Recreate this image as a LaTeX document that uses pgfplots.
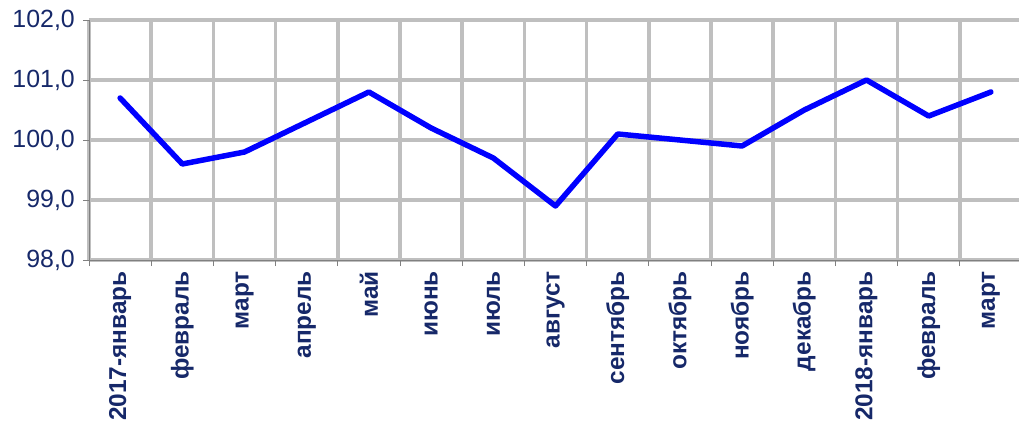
\documentclass[border=0pt]{standalone}
\usepackage{fontspec}
\setmainfont{Liberation Sans}
\usepackage{pgfplots}
\pgfplotsset{compat=1.18}
\definecolor{navy}{RGB}{22,40,105}
\definecolor{gridc}{RGB}{191,191,191}
\definecolor{axc}{RGB}{128,128,128}
\begin{document}
\begin{tikzpicture}
\begin{axis}[
  at={(89bp,163bp)}, anchor=south west,
  scale only axis, width=933bp, height=240bp,
  xmin=-0.5, xmax=14.5, ymin=98, ymax=102,
  axis x line*=bottom, axis y line*=left,
  axis line style={axc, line width=0.9bp, -},
  xtick={-0.5,0.5,...,14.5},
  xticklabels={},
  xmajorgrids,
  major x grid style={gridc, line width=3.5bp},
  extra x ticks={0,...,14},
  extra x tick labels={2017-январь,февраль,март,апрель,май,июнь,июль,август,сентябрь,октябрь,ноябрь,декабрь,2018-январь,февраль,март},
  extra x tick style={grid=none, major tick length=0pt, tick style={draw=none}},
  ytick={98,99,100,101,102},
  ymajorgrids,
  major y grid style={gridc, line width=3.5bp},
  tick style={axc, line width=0.9bp},
  tick align=outside,
  major tick length=6bp,
  xticklabel shift=11bp,
  xticklabel style={rotate=90, anchor=east, font=\fontsize{24.5}{28}\selectfont\bfseries, text=navy, inner sep=0pt},
  yticklabel style={font=\fontsize{25}{28}\selectfont, text=navy, inner sep=0pt, xshift=-8bp},
  /pgf/number format/.cd, use comma, fixed, fixed zerofill, precision=1, assume math mode=true,
]
\addplot[color={rgb,255:red,0;green,0;blue,255}, line width=5.5bp, line join=round, line cap=round, mark=none]
coordinates {
(0,100.7) (1,99.6) (2,99.8) (3,100.3) (4,100.8) (5,100.2) (6,99.7) (7,98.9)
(8,100.1) (9,100.0) (10,99.9) (11,100.5) (12,101.0) (13,100.4) (14,100.8)
};
\end{axis}
\draw[axc, line width=0.9bp] (89bp,163bp) -- (89bp,403bp);
\pgfresetboundingbox
\useasboundingbox (0,0) rectangle (1019bp,423bp);
\end{tikzpicture}
\end{document}
